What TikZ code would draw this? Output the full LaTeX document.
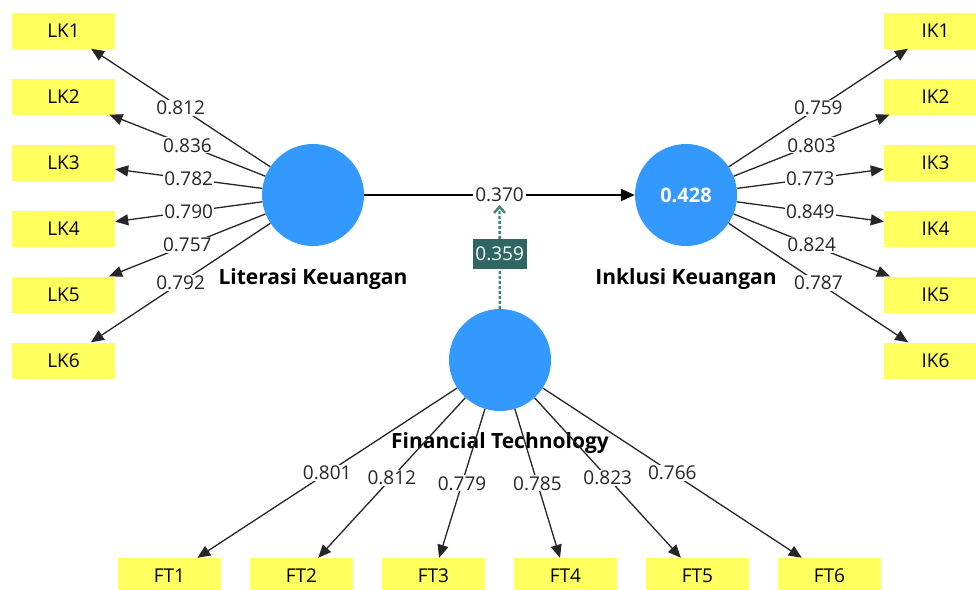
\documentclass[tikz,border=0pt]{standalone}
\usepackage{fontspec}
\setmainfont{Open Sans}
\usetikzlibrary{arrows.meta}
\definecolor{lvblue}{RGB}{51,153,255}
\definecolor{indyellow}{RGB}{255,255,94}
\definecolor{modteal}{RGB}{70,128,122}
\definecolor{modfill}{RGB}{47,102,98}
\tikzset{
  ind/.style={rectangle, fill=indyellow, minimum width=103pt, minimum height=36pt, inner sep=0pt, font=\fontsize{19}{22}\selectfont},
  lv/.style={circle, fill=lvblue, minimum size=102pt, inner sep=0pt},
  lvname/.style={font=\fontsize{21}{24}\selectfont\bfseries},
  load/.style={draw=black!85, line width=1.3pt, -{Triangle[length=13pt,width=11pt]}},
  lbl/.style={fill=white, inner sep=1pt, text=black!85, font=\fontsize{19}{22}\selectfont},
  pathline/.style={draw=black, line width=2.2pt, -{Triangle[length=14pt,width=12pt]}},
  modline/.style={draw=modteal, line width=2.4pt, dash pattern=on 3pt off 2pt, -{Straight Barb[length=6pt,width=11pt]}},
  modlbl/.style={fill=modfill, text=white, minimum width=54pt, minimum height=30pt, inner sep=1pt, font=\fontsize{19}{22}\selectfont}
}
\begin{document}
\begin{tikzpicture}[x=1pt,y=-1pt]
\useasboundingbox (0,0) rectangle (976,589);
\clip (0,0) rectangle (976,589);
\fill[white] (0,0) rectangle (976,589);

% latent variables
\node[lv] (LIT) at (313,195) {};
\node[lv] (INK) at (686,195) {\color{white}\fontsize{20}{23}\selectfont\bfseries 0.428};
\node[lv] (FT) at (500,360) {};
\node[lvname] (LITn) at (313,279) {Literasi Keuangan};
\node[lvname] (INKn) at (686,279) {Inklusi Keuangan};
\node[lvname] (FTn) at (500,443) {Financial Technology};

% indicators left
\node[ind] (LK1) at (63.5,30.5) {LK1};
\node[ind] (LK2) at (63.5,96.5) {LK2};
\node[ind] (LK3) at (63.5,162.5) {LK3};
\node[ind] (LK4) at (63.5,228.5) {LK4};
\node[ind] (LK5) at (63.5,294.5) {LK5};
\node[ind] (LK6) at (63.5,360.5) {LK6};
% indicators right
\node[ind] (IK1) at (935.5,30.5) {IK1};
\node[ind] (IK2) at (935.5,96.5) {IK2};
\node[ind] (IK3) at (935.5,162.5) {IK3};
\node[ind] (IK4) at (935.5,228.5) {IK4};
\node[ind] (IK5) at (935.5,294.5) {IK5};
\node[ind] (IK6) at (935.5,360.5) {IK6};
% indicators bottom
\node[ind] (FT1) at (169.5,576) {FT1};
\node[ind] (FT2) at (301.5,576) {FT2};
\node[ind] (FT3) at (433.5,576) {FT3};
\node[ind] (FT4) at (565.5,576) {FT4};
\node[ind] (FT5) at (697.5,576) {FT5};
\node[ind] (FT6) at (829.5,576) {FT6};

% loadings
\draw[load] (LIT) -- node[lbl]{0.812} (LK1);
\draw[load] (LIT) -- node[lbl]{0.836} (LK2);
\draw[load] (LIT) -- node[lbl]{0.782} (LK3);
\draw[load] (LIT) -- node[lbl]{0.790} (LK4);
\draw[load] (LIT) -- node[lbl]{0.757} (LK5);
\draw[load] (LIT) -- node[lbl]{0.792} (LK6);

\draw[load] (INK) -- node[lbl]{0.759} (IK1);
\draw[load] (INK) -- node[lbl]{0.803} (IK2);
\draw[load] (INK) -- node[lbl]{0.773} (IK3);
\draw[load] (INK) -- node[lbl]{0.849} (IK4);
\draw[load] (INK) -- node[lbl]{0.824} (IK5);
\draw[load] (INK) -- node[lbl]{0.787} (IK6);

\draw[load] (FT) -- node[lbl]{0.801} (FT1);
\draw[load] (FT) -- node[lbl]{0.812} (FT2);
\draw[load] (FT) -- node[lbl]{0.779} (FT3);
\draw[load] (FT) -- node[lbl]{0.785} (FT4);
\draw[load] (FT) -- node[lbl]{0.823} (FT5);
\draw[load] (FT) -- node[lbl]{0.766} (FT6);

% structural path
\draw[pathline] (LIT) -- node[lbl, inner sep=2pt] (P370) {0.370} (INK);

% moderating effect
\draw[modline] (FT) -- node[modlbl, pos=0.53] (M359) {0.359} (P370.south);
\end{tikzpicture}
\end{document}
